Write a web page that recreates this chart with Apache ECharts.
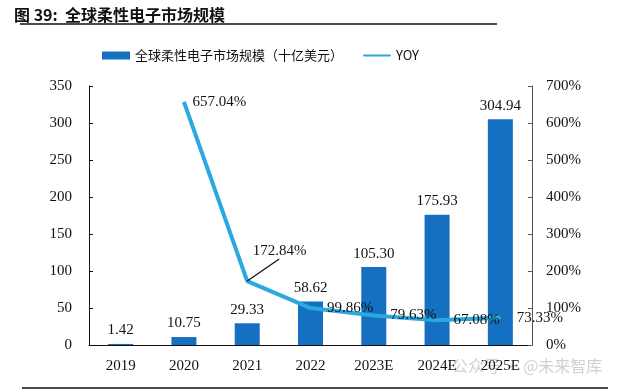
<!DOCTYPE html>
<html><head><meta charset="utf-8">
<script src="https://cdn.jsdelivr.net/npm/echarts@6/dist/echarts.min.js"></script>
<style>html,body{margin:0;padding:0;background:#fff}#c{width:640px;height:392px}</style>
</head><body><div id="c"></div>
<script>
const categories = ['2019','2020','2021','2022','2023E','2024E','2025E'];
const marketSize = [1.42, 10.75, 29.33, 58.62, 105.30, 175.93, 304.94];
const yoy = [null, 657.04, 172.84, 99.86, 79.63, 67.08, 73.33];
const leftTicks = {min: 0, max: 350, interval: 50};
const rightTicks = {min: 0, max: 700, interval: 100};
const barName = '全球柔性电子市场规模（十亿美元）';
const lineName = 'YOY';

const serif = '"Liberation Serif","Times New Roman",serif';
const lineColor = '#2aa8df';
const calloutIndex = 2;
const calloutDx = 32, calloutDy = -30;
const chart = echarts.init(document.getElementById('c'));
const baseGraphic = [
  {type: 'line', shape: {x1: 20, y1: 24, x2: 497, y2: 24}, style: {stroke: '#111', lineWidth: 1.5}},
  {type: 'line', shape: {x1: 22, y1: 388, x2: 608, y2: 388}, style: {stroke: '#111', lineWidth: 1.5}},
  {type: 'text', left: 452, top: 358, style: {text: '公众号 · @未来智库', fill: 'rgba(150,150,150,0.45)', font: '16px "Noto Sans CJK SC"'}}
];
chart.setOption({
  animation: false,
  title: {
    text: '图 39:  全球柔性电子市场规模', left: 9, top: 2,
    textStyle: {fontFamily: '"Noto Sans CJK SC"', fontWeight: 'bold', fontSize: 16, color: '#111'}
  },
  legend: {
    top: 44, left: 97, itemWidth: 28, itemHeight: 8, itemGap: 20,
    textStyle: {fontFamily: '"Noto Sans CJK SC",' + serif, fontSize: 13, color: '#111'},
    data: [{name: barName, icon: 'rect'},
           {name: lineName, icon: 'path://M2,3 L26,3 A1,1 0 0 1 26,5 L2,5 A1,1 0 0 1 2,3 Z', itemStyle: {color: lineColor}}]
  },
  graphic: baseGraphic,
  grid: {left: 89, right: 108, top: 86, bottom: 47},
  xAxis: {
    type: 'category', data: categories,
    axisLine: {lineStyle: {color: '#111'}},
    axisTick: {inside: true, length: 5, lineStyle: {color: '#111'}},
    axisLabel: {fontFamily: serif, fontSize: 15, color: '#111', margin: 14}
  },
  yAxis: [
    {type: 'value', min: leftTicks.min, max: leftTicks.max, interval: leftTicks.interval,
     splitLine: {show: false},
     axisLine: {show: true, lineStyle: {color: '#111'}},
     axisTick: {show: true, inside: true, length: 4, lineStyle: {color: '#111'}},
     axisLabel: {fontFamily: serif, fontSize: 15, color: '#111', margin: 17}},
    {type: 'value', min: rightTicks.min, max: rightTicks.max, interval: rightTicks.interval,
     splitLine: {show: false},
     axisLine: {show: true, lineStyle: {color: '#555'}},
     axisTick: {show: true, inside: true, length: 4, lineStyle: {color: '#555'}},
     axisLabel: {fontFamily: serif, fontSize: 15, color: '#111', margin: 14, formatter: '{value}%'}}
  ],
  series: [
    {name: barName, type: 'bar', data: marketSize, barWidth: 25,
     itemStyle: {color: '#1570c1'},
     label: {show: true, position: 'top', distance: 6, fontFamily: serif, fontSize: 15, color: '#111',
             formatter: p => p.value.toFixed(2)}},
    {name: lineName, type: 'line', yAxisIndex: 1, data: yoy, symbol: 'circle', symbolSize: 1, showSymbol: true, z: 3,
     lineStyle: {color: lineColor, width: 4}, itemStyle: {color: 'rgba(0,0,0,0)', borderWidth: 0},
     label: {show: true, position: 'right', distance: 16, fontFamily: serif, fontSize: 15, color: '#111',
             formatter: p => p.value.toFixed(2) + '%'},
     labelLayout: function (p) {
       if (p.dataIndex === 1) return {dx: -8, dy: 0};
       if (p.dataIndex === calloutIndex) return {dx: -11, dy: -30};
       return {};
     }}
  ]
});
const pt = chart.convertToPixel({xAxisIndex: 0, yAxisIndex: 1}, [categories[calloutIndex], yoy[calloutIndex]]);
chart.setOption({
  graphic: baseGraphic.concat([
    {type: 'line', z: 10, shape: {x1: pt[0], y1: pt[1], x2: pt[0] + calloutDx, y2: pt[1] + calloutDy + 8},
     style: {stroke: '#111', lineWidth: 1.3}}
  ])
});
</script></body></html>
